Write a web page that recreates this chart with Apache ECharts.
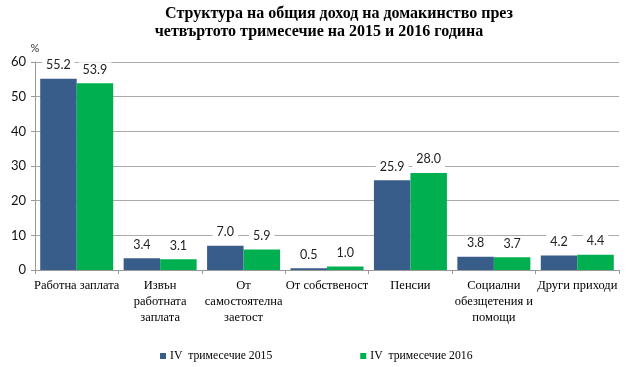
<!DOCTYPE html>
<html><head><meta charset="utf-8">
<script src="https://cdn.jsdelivr.net/npm/echarts@6/dist/echarts.min.js"></script>
<style>html,body{margin:0;padding:0;background:#fff}#c{width:630px;height:367px}</style>
</head><body><div id="c"></div>
<script>
const categories = ["Работна заплата", "Извън\nработната\nзаплата", "От\nсамостоятелна\nзаетост", "От собственост", "Пенсии", "Социални\nобезщетения и\nпомощи", "Други приходи"];
const seriesNames = ["IV  тримесечие 2015", "IV  тримесечие 2016"];
const values2015 = [55.2, 3.4, 7.0, 0.5, 25.9, 3.8, 4.2];
const values2016 = [53.9, 3.1, 5.9, 1.0, 28.0, 3.7, 4.4];
const yTicks = [0, 10, 20, 30, 40, 50, 60];
const titleLines = ['Структура на общия доход на домакинство през', 'четвъртото тримесечие на 2015 и 2016 година'];

const chart = echarts.init(document.getElementById('c'), null, {renderer: 'canvas'});
const labelStyle = {
  show: true, position: 'top', distance: 6,
  fontFamily: 'Lato, "Open Sans", sans-serif', fontSize: 12.5, color: '#222',
  backgroundColor: '#fff', padding: [1, 4],
  formatter: p => p.value.toFixed(1)
};
const titleText = {fontFamily: '"Liberation Serif", serif', fontWeight: 'bold', fontSize: 16, color: '#000'};
chart.setOption({
  animation: false,
  title: [
    {text: titleLines[0], left: 334, textAlign: 'center', top: 1, textStyle: titleText},
    {text: titleLines[1], left: 314, textAlign: 'center', top: 19, textStyle: titleText}
  ],
  legend: {
    top: 345, left: 155, itemWidth: 6, itemHeight: 6, itemGap: 88,
    icon: 'rect',
    textStyle: {fontFamily: '"Liberation Serif", serif', fontSize: 11.7, color: '#000', padding: [0,0,0,-1]},
    data: seriesNames
  },
  grid: {left: 35, right: 11, top: 62, bottom: 97},
  xAxis: {
    type: 'category', data: categories,
    axisLine: {lineStyle: {color: '#999'}},
    axisTick: {show: true, length: 4, lineStyle: {color: '#999'}},
    axisLabel: {fontFamily: '"Liberation Serif", serif', fontSize: 12.5, color: '#000', lineHeight: 16, margin: 8, interval: 0}
  },
  yAxis: {
    type: 'value', min: yTicks[0], max: yTicks[yTicks.length-1], interval: 10,
    name: '%', nameLocation: 'end', nameGap: 8,
    nameTextStyle: {fontFamily: 'Lato, sans-serif', fontSize: 11, color: '#333', align: 'center', padding: [0,0,0,0]},
    axisLine: {show: true, lineStyle: {color: '#999'}},
    axisTick: {show: true, length: 4, lineStyle: {color: '#999'}},
    splitLine: {lineStyle: {color: '#aaa'}},
    axisLabel: {fontFamily: 'Lato, "Open Sans", sans-serif', fontSize: 13, color: '#111', margin: 9}
  },
  series: [
    {name: seriesNames[0], type: 'bar', data: values2015, barGap: '0%', barCategoryGap: '12.5%',
     itemStyle: {color: '#385D8A'}, label: labelStyle},
    {name: seriesNames[1], type: 'bar', data: values2016,
     itemStyle: {color: '#00B050'}, label: labelStyle}
  ]
});
</script></body></html>
